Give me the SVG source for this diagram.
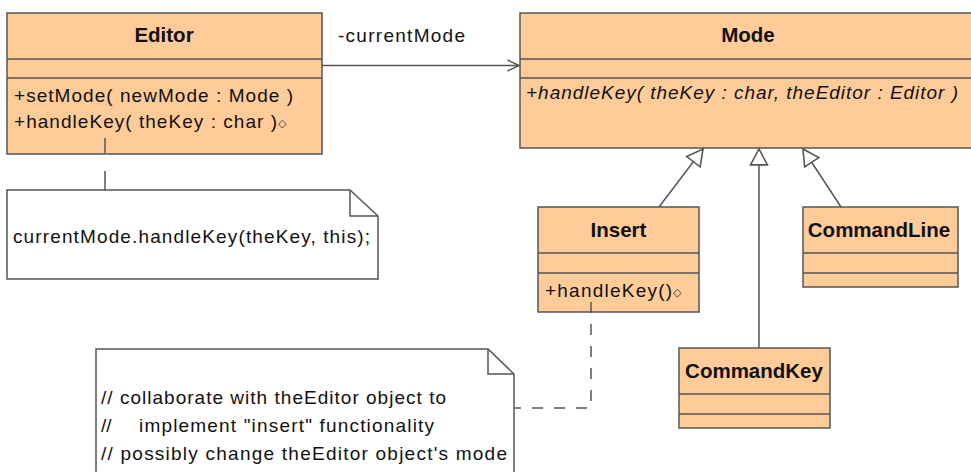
<svg xmlns="http://www.w3.org/2000/svg" width="971" height="472" viewBox="0 0 971 472">
<style>
.cls{fill:#FFCC99;stroke:#555;stroke-width:1.5}
.div{stroke:#555;stroke-width:1.5;fill:none}
.title{font-family:"Liberation Sans",Arial,sans-serif;font-weight:bold;font-size:20.5px;text-anchor:middle;fill:#111}
.txt{font-family:"Liberation Sans",Arial,sans-serif;font-size:19px;fill:#111}
.it{font-style:italic}
.sym{font-family:"DejaVu Sans",sans-serif;font-size:11px;fill:#333}
.note{fill:#fff;stroke:#555;stroke-width:1.5}
.edge{stroke:#555;stroke-width:1.5;fill:none}
.dash{stroke-dasharray:11,11}
</style>
<defs>
<marker id="gen" markerUnits="userSpaceOnUse" markerWidth="18" markerHeight="20" viewBox="0 0 17 18" refX="16" refY="9" orient="auto">
<path d="M1,1 L16,9 L1,17 Z" fill="#fff" stroke="#555" stroke-width="1.5"/>
</marker>
<marker id="open" markerUnits="userSpaceOnUse" markerWidth="14" markerHeight="14" viewBox="0 0 14 14" refX="12.5" refY="7" orient="auto">
<path d="M1,1.5 L12.5,7 L1,12.5" fill="none" stroke="#555" stroke-width="1.5"/>
</marker>
</defs>

<g id="Editor">
<rect class="cls" x="7" y="13" width="315" height="141"/>
<line class="div" x1="7" y1="59" x2="322" y2="59"/>
<line class="div" x1="7" y1="78" x2="322" y2="78"/>
<text class="title" x="164" y="42">Editor</text>
<text class="txt" x="14" y="102" textLength="279">+setMode( newMode : Mode )</text>
<text class="txt" x="14" y="128" textLength="263">+handleKey( theKey : char )</text>
<text class="sym" x="278" y="127">◇</text>
</g>

<g id="Mode">
<rect class="cls" x="520" y="13" width="460" height="135"/>
<line class="div" x1="520" y1="59" x2="980" y2="59"/>
<line class="div" x1="520" y1="78" x2="980" y2="78"/>
<text class="title" x="748" y="42">Mode</text>
<text class="txt it" x="526" y="99" textLength="432">+handleKey( theKey : char, theEditor : Editor )</text>
</g>

<g id="Insert">
<rect class="cls" x="538" y="207" width="161" height="105"/>
<line class="div" x1="538" y1="253" x2="699" y2="253"/>
<line class="div" x1="538" y1="273" x2="699" y2="273"/>
<text class="title" x="618.5" y="237">Insert</text>
<text class="txt" x="545" y="297" textLength="127">+handleKey()</text>
<text class="sym" x="673" y="296">◇</text>
</g>

<g id="CommandLine">
<rect class="cls" x="803" y="207" width="155" height="80"/>
<line class="div" x1="803" y1="253" x2="958" y2="253"/>
<line class="div" x1="803" y1="273" x2="958" y2="273"/>
<text class="title" x="879" y="237">CommandLine</text>
</g>

<g id="CommandKey">
<rect class="cls" x="679" y="348" width="151" height="80"/>
<line class="div" x1="679" y1="394" x2="830" y2="394"/>
<line class="div" x1="679" y1="414" x2="830" y2="414"/>
<text class="title" x="754" y="378">CommandKey</text>
</g>

<g id="note1">
<path class="note" d="M7,190 L350,190 L378,216 L378,279 L7,279 Z"/>
<path class="edge" d="M350,190 L350,216 L378,216"/>
<text class="txt" x="13" y="243" textLength="357">currentMode.handleKey(theKey, this);</text>
</g>

<g id="note2">
<path class="note" d="M96,349 L488,349 L514,374 L514,480 L96,480 Z"/>
<path class="edge" d="M488,349 L488,374 L514,374"/>
<text class="txt" x="101" y="404" textLength="345">// collaborate with theEditor object to</text>
<text class="txt" y="432"><tspan x="101">//</tspan><tspan x="139" textLength="295">implement "insert" functionality</tspan></text>
<text class="txt" x="101" y="460" textLength="406">// possibly change theEditor object's mode</text>
</g>

<g id="connectors">
<line class="edge" x1="322" y1="65.5" x2="519" y2="65.5" marker-end="url(#open)"/>
<text class="txt" x="338" y="42" textLength="127">-currentMode</text>
<line class="edge" x1="659" y1="207" x2="703" y2="149" marker-end="url(#gen)"/>
<line class="edge" x1="759" y1="348" x2="759" y2="149" marker-end="url(#gen)"/>
<line class="edge" x1="841" y1="207" x2="803" y2="149" marker-end="url(#gen)"/>
<line class="edge" x1="105" y1="138" x2="105" y2="153"/>
<line class="edge" x1="105" y1="171" x2="105" y2="190"/>
<path class="edge dash" d="M591,302 L591,408 L515,408"/>
</g>
</svg>
